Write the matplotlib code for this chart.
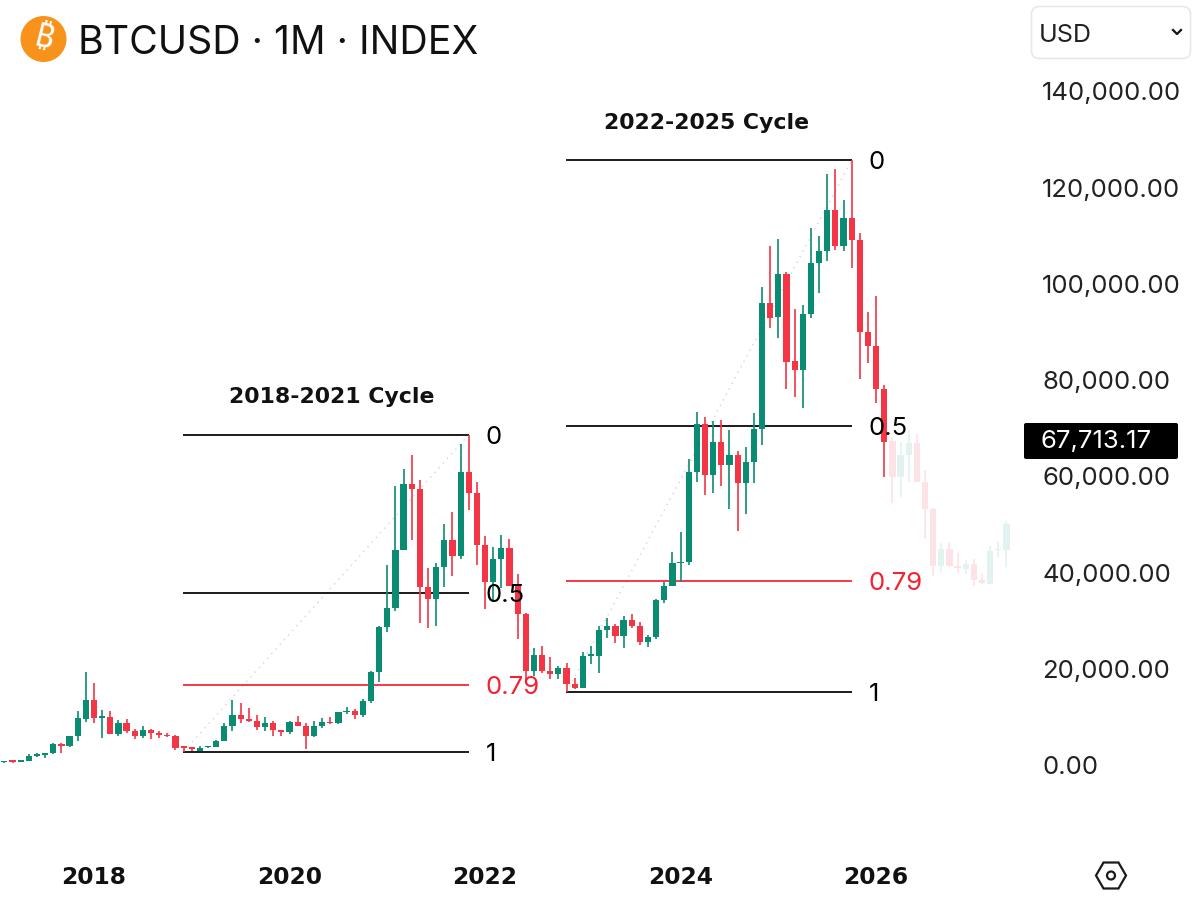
import numpy as np
import matplotlib
matplotlib.use("Agg")
import matplotlib.pyplot as plt
from matplotlib import font_manager as fm
from matplotlib.ft2font import FT2Font
from matplotlib.patches import FancyBboxPatch, Circle, RegularPolygon
from matplotlib.transforms import ScaledTranslation

plt.rcParams['font.family'] = ['Inter', 'DejaVu Sans']

# Monthly candles, prices in thousands of USD. Month number 0 = Jan 2018.
first_month = -11
opens = [0.97,1.19,1.08,1.35,2.3,2.5,2.9,4.7,4.4,6.4,10.0,
 13.9,10.2,10.3,6.9,9.2,7.5,6.4,7.7,7.0,6.6,6.4,
 4.15,4.0,3.35,4.1,4.2,5.3,8.6,10.8,10.0,9.6,8.3,9.2,7.6,
 7.2,9.35,8.55,6.4,8.6,9.45,9.1,11.35,11.65,10.8,13.8,19.7,
 29.0,33.1,45.1,58.8,57.7,37.3,35.0,41.5,47.1,43.8,61.3,57.0,
 46.2,38.5,43.2,45.5,37.6,31.8,19.9,23.3,20.0,19.4,20.5,17.2,
 16.5,23.1,23.1,28.5,29.2,27.2,30.5,29.2,25.9,27.0,34.6,37.7,
 42.3,42.6,61.2,71.3,60.6,67.5,62.7,64.8,58.9,63.3,70.2,96.4,
 93.4,102.4,84.3,82.5,94.2,104.6,107.1,115.7,108.2,114.0,109.5,90.3,
 87.4,78.5]
highs = [1.2,1.29,1.35,2.76,2.98,2.95,4.98,5.0,6.5,11.6,19.8,
 17.4,11.8,11.7,9.8,10.0,7.8,8.5,7.8,7.4,7.0,6.6,
 4.4,4.1,4.3,4.25,5.6,9.1,13.9,13.2,12.3,10.9,10.4,9.5,7.7,
 9.6,10.5,9.2,9.5,10.1,10.4,11.4,12.5,12.1,14.1,19.9,29.3,
 41.9,58.3,61.8,64.9,59.6,41.3,42.4,50.5,52.9,67.0,69.0,59.1,
 47.9,45.8,48.2,47.4,40.0,31.9,24.7,25.2,22.8,20.9,21.5,18.4,
 23.9,25.2,29.2,31.0,29.8,31.4,31.8,30.2,27.5,35.0,38.4,44.7,
 48.9,64.0,73.8,72.7,71.9,72.0,70.0,65.6,66.5,73.6,99.7,108.2,
 109.6,102.8,95.1,95.9,111.9,110.4,123.1,124.3,117.8,126.0,111.0,94.5,
 97.8,79.3]
lows = [0.92,0.89,1.08,1.35,2.1,1.8,2.7,3.0,4.1,5.5,9.4,
 9.2,6.0,6.9,6.4,7.0,5.8,6.1,5.9,6.1,6.2,3.5,
 3.2,3.3,3.3,4.0,4.1,5.3,7.5,9.1,9.3,7.7,7.4,6.5,6.5,
 6.9,8.5,3.8,6.2,8.1,8.9,8.9,11.0,10.0,10.4,13.2,17.6,
 28.1,32.4,45.1,47.1,30.0,28.8,29.3,37.3,39.6,43.3,53.3,42.0,
 32.9,34.3,37.2,37.6,26.6,17.6,18.9,19.5,18.2,18.2,15.5,16.3,
 16.5,21.4,19.6,26.9,25.8,24.8,28.9,25.3,24.9,26.5,34.1,37.6,
 38.5,41.9,59.2,56.5,56.9,58.4,53.6,49.0,52.5,58.9,66.8,91.2,
 89.2,78.5,76.9,74.5,93.3,98.4,105.1,107.3,107.2,103.6,80.6,83.9,
 75.6,60.2]
closes = [1.19,1.08,1.35,2.3,2.5,2.9,4.7,4.3,6.45,10.1,13.9,
 10.2,10.3,6.9,9.2,7.5,6.4,7.7,7.0,6.6,6.4,3.95,
 4.0,3.8,3.85,4.2,5.3,8.6,10.8,10.0,9.6,8.3,9.2,7.6,7.2,
 9.35,8.55,6.4,8.6,9.45,9.1,11.35,11.65,10.8,13.8,19.7,29.0,
 33.1,45.1,58.8,57.7,37.3,35.0,41.5,47.1,43.8,61.3,57.0,46.2,
 38.5,43.2,45.5,37.6,31.8,19.9,23.3,20.0,19.4,20.5,17.2,16.5,
 23.1,23.1,28.5,29.2,27.2,30.5,29.2,25.9,27.0,34.6,37.7,42.3,
 42.6,61.2,71.3,60.6,67.5,62.7,64.8,58.9,63.3,70.2,96.4,93.3,
 102.4,84.2,82.5,94.2,104.6,107.1,115.7,108.2,114.0,109.5,90.3,87.4,
 78.5,67.5]

# Projected (faded) candles following the last real month
proj_first_month = 98
proj_opens  = [67.8,60.2,64.9,67.2,59.3,53.5,41.8,45.2,41.8,41.1,42.2,38.9,38.1,45.0,45.0]
proj_highs  = [68.5,67.6,70.0,69.2,61.7,53.9,46.5,46.5,44.5,43.0,43.3,40.2,46.0,46.8,51.1]
proj_lows   = [54.9,56.1,59.3,59.3,47.3,39.7,40.5,41.5,40.2,40.1,37.5,38.1,38.0,43.7,41.6]
proj_closes = [60.2,64.9,67.2,59.3,53.5,41.8,45.2,41.8,41.3,42.2,38.9,38.15,44.9,45.2,50.4]

# Fibonacci cycles
cycle_names = ['2018-2021 Cycle', '2022-2025 Cycle']
cycle_label_month = [29.15, 75.2]
cycle_start = [11, 58]
cycle_end = [46, 93]
cycle_low = [3.2, 15.5]
cycle_high = [69.0, 126.0]
fib_levels = [0, 0.5, 0.79, 1]
fib_labels = ['0', '0.5', '0.79', '1']
fib_colors = ['#000000', '#000000', '#F7202F', '#000000']

price_ticks = [0, 20000, 40000, 60000, 80000, 100000, 120000, 140000]
year_labels = ['2018', '2020', '2022', '2024', '2026']
year_months = [0, 24, 48, 72, 96]
current_price = 67713.17

GREEN, RED = '#0A8C72', '#F23645'
PALE_GREEN, PALE_RED = '#E2F2F0', '#FDE3E5'

fig = plt.figure(figsize=(12, 9.01), dpi=100, facecolor='white')
W, H = 1200, 901
ax = fig.add_axes([0, (H - 840) / H, 1020 / W, 770 / H])
ax.set_xlim((0 - 94) / 8.147, (1020 - 94) / 8.147)
ax.set_ylim((767 - 840) / 4.814 * 1000, (767 - 70) / 4.814 * 1000)
for s in ax.spines.values():
    s.set_visible(False)


def candles(start, o, h, l, c, up, down):
    o, h, l, c = [np.array(v) * 1000 for v in (o, h, l, c)]
    m = start + np.arange(len(o))
    cols = [up if b >= a else down for a, b in zip(o, c)]
    ax.vlines(m, l, h, colors=cols, lw=1.2, zorder=3)
    body = np.maximum(np.abs(c - o), 300)
    ax.bar(m, body, bottom=np.minimum(o, c), width=0.76, color=cols,
           linewidth=0, zorder=3)


candles(first_month, opens, highs, lows, closes, GREEN, RED)
candles(proj_first_month, proj_opens, proj_highs, proj_lows, proj_closes, PALE_GREEN, PALE_RED)

for name, lm, s, e, lo, hi in zip(cycle_names, cycle_label_month, cycle_start, cycle_end,
                                  cycle_low, cycle_high):
    ax.plot([s, e], [lo * 1000, hi * 1000], color='#d4d4d4', lw=1.0,
            ls=(0, (1, 3.5)), zorder=1)
    for lev, lab, col in zip(fib_levels, fib_labels, fib_colors):
        p = (hi - lev * (hi - lo)) * 1000
        ax.plot([s - 0.1, e], [p, p], color=col, lw=1.25, zorder=2, solid_capstyle='butt')
        ax.annotate(lab, (e, p), xytext=(17 * 0.72, 0), textcoords='offset points',
                    ha='left', va='center_baseline', fontsize=18.5, color=col, zorder=5)
    ax.annotate(name, (lm, hi * 1000), xytext=(0, 20), textcoords='offset points',
                ha='center', va='bottom', fontsize=15.8, fontweight='bold', color='#111111',
                family=['DejaVu Sans'])

ax.yaxis.tick_right()
ax.set_yticks(price_ticks)
ax.set_yticklabels([f'{p:,.2f}' for p in price_ticks])
ax.tick_params(axis='y', length=0, pad=16, labelsize=18.5, labelcolor='#222222')
up_1px = ScaledTranslation(0, 1.2 / 72, fig.dpi_scale_trans)
for lbl in ax.get_yticklabels():
    lbl.set_transform(lbl.get_transform() + up_1px)
ax.set_xticks(year_months)
ax.set_xticklabels(year_labels, fontweight='bold', family=['DejaVu Sans'])
ax.tick_params(axis='x', length=0, pad=19, labelsize=16.8, labelcolor='#111111')

# Overlay in pixel coordinates for the page furniture
ov = fig.add_axes([0, 0, 1, 1], facecolor='none')
ov.set_xlim(0, W)
ov.set_ylim(H, 0)
ov.axis('off')
ov.add_patch(Circle((43.5, 39), 23, color='#F7931A', lw=0))

# Use an installed family that has the bitcoin sign, if there is one
btc_family = None
for fam in ['Noto Sans', 'Roboto', 'Open Sans', 'Lato', 'Liberation Sans', 'DejaVu Sans', 'Inter']:
    path = fm.findfont(fm.FontProperties(family=fam, weight='bold'), fallback_to_default=False)
    if FT2Font(path).get_char_index(0x20BF):
        btc_family = fam
        break
if btc_family:
    ov.text(43.5, 39, '\u20bf', color='white', fontsize=24, fontweight='bold', ha='center',
            va='center', rotation=-14, family=[btc_family])

ov.text(78, 44, 'BTCUSD \u00b7 1M \u00b7 INDEX', fontsize=28.3, color='#111111', ha='left', va='center')

ov.add_patch(FancyBboxPatch((1035, 10), 152, 45, boxstyle='round,pad=3.5,rounding_size=8',
                            fc='white', ec='#e8e8e8', lw=1.2))
ov.text(1039, 36, 'USD', fontsize=18, color='#222222', ha='left', va='center')
ov.plot([1173, 1177, 1181], [30, 34, 30], color='#111111', lw=1.6)

ov.add_patch(FancyBboxPatch((1026, 425), 150, 32, boxstyle='round,pad=2,rounding_size=2',
                            fc='black', ec='none'))
ov.text(1041, 441, f'{current_price:,.2f}', fontsize=18.5, color='white', ha='left', va='center')

ov.add_patch(RegularPolygon((1111, 875.5), 6, radius=15, orientation=np.pi / 6,
                            fc='none', ec='#1a1a1a', lw=1.6))
ov.add_patch(Circle((1111, 875.5), 4, fc='none', ec='#1a1a1a', lw=1.6))

fig.savefig('out.png', dpi=100)
